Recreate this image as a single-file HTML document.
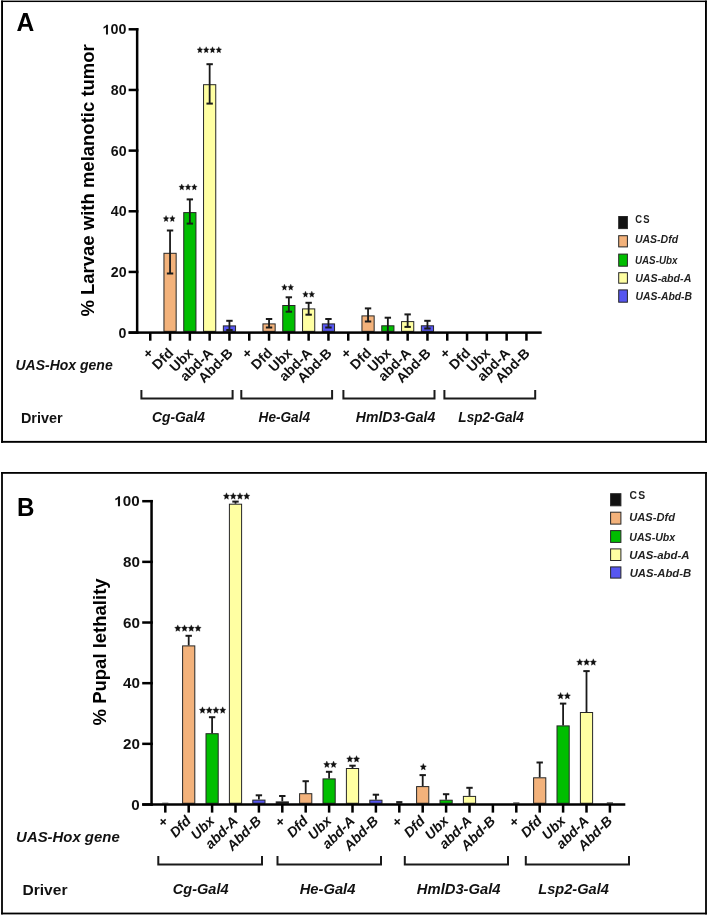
<!DOCTYPE html><html><head><meta charset="utf-8"><title>Figure</title><style>html,body{margin:0;padding:0;background:#fff;width:708px;height:916px;overflow:hidden}svg{display:block;will-change:transform}text{font-family:"Liberation Sans",sans-serif}</style></head><body>
<svg width="708" height="916" viewBox="0 0 708 916">
<defs><path id="stA" d="M0.000 -3.300 L0.814 -1.273 L2.762 -1.020 L1.317 0.486 L1.707 2.670 L0.000 1.574 L-1.707 2.670 L-1.317 0.486 L-2.762 -1.020 L-0.814 -1.273 Z" fill="#111" stroke="#111" stroke-width="0.35" stroke-linejoin="round"/><path id="stB" d="M0.000 -3.550 L0.916 -1.370 L3.106 -1.097 L1.482 0.523 L1.920 2.872 L0.000 1.693 L-1.920 2.872 L-1.482 0.523 L-3.106 -1.097 L-0.916 -1.370 Z" fill="#111" stroke="#111" stroke-width="0.35" stroke-linejoin="round"/></defs>
<rect x="0.00" y="0.00" width="708.00" height="916.00" fill="#fff" />
<rect x="1.10" y="0.60" width="705.80" height="1.45" fill="#000" />
<rect x="1.10" y="440.90" width="705.80" height="1.90" fill="#000" />
<rect x="1.10" y="0.60" width="1.90" height="442.20" fill="#000" />
<rect x="705.00" y="0.60" width="1.90" height="442.20" fill="#000" />
<rect x="1.10" y="472.00" width="705.80" height="1.80" fill="#000" />
<rect x="1.10" y="912.60" width="705.80" height="1.80" fill="#000" />
<rect x="1.10" y="472.00" width="1.80" height="442.40" fill="#000" />
<rect x="705.10" y="472.00" width="1.80" height="442.40" fill="#000" />
<rect x="163.95" y="253.30" width="12.20" height="78.05" fill="#F3B27B" stroke="#262626" stroke-width="1"/>
<line x1="170.05" y1="230.50" x2="170.05" y2="273.50" stroke="#1a1a1a" stroke-width="1.8"/>
<line x1="166.85" y1="230.50" x2="173.25" y2="230.50" stroke="#1a1a1a" stroke-width="2"/>
<line x1="166.85" y1="273.50" x2="173.25" y2="273.50" stroke="#1a1a1a" stroke-width="2"/>
<rect x="183.75" y="212.60" width="12.20" height="118.75" fill="#00BE00" stroke="#262626" stroke-width="1"/>
<line x1="189.85" y1="199.40" x2="189.85" y2="223.60" stroke="#1a1a1a" stroke-width="1.8"/>
<line x1="186.65" y1="199.40" x2="193.05" y2="199.40" stroke="#1a1a1a" stroke-width="2"/>
<line x1="186.65" y1="223.60" x2="193.05" y2="223.60" stroke="#1a1a1a" stroke-width="2"/>
<rect x="203.55" y="84.70" width="12.20" height="246.65" fill="#FFFFA2" stroke="#262626" stroke-width="1"/>
<line x1="209.65" y1="64.20" x2="209.65" y2="103.60" stroke="#1a1a1a" stroke-width="1.8"/>
<line x1="206.45" y1="64.20" x2="212.85" y2="64.20" stroke="#1a1a1a" stroke-width="2"/>
<line x1="206.45" y1="103.60" x2="212.85" y2="103.60" stroke="#1a1a1a" stroke-width="2"/>
<rect x="223.35" y="325.90" width="12.20" height="5.45" fill="#5656F0" stroke="#262626" stroke-width="1"/>
<line x1="229.45" y1="320.80" x2="229.45" y2="330.00" stroke="#1a1a1a" stroke-width="1.8"/>
<line x1="226.25" y1="320.80" x2="232.65" y2="320.80" stroke="#1a1a1a" stroke-width="2"/>
<line x1="226.25" y1="330.00" x2="232.65" y2="330.00" stroke="#1a1a1a" stroke-width="2"/>
<rect x="262.95" y="323.90" width="12.20" height="7.45" fill="#F3B27B" stroke="#262626" stroke-width="1"/>
<line x1="269.05" y1="319.00" x2="269.05" y2="327.50" stroke="#1a1a1a" stroke-width="1.8"/>
<line x1="265.85" y1="319.00" x2="272.25" y2="319.00" stroke="#1a1a1a" stroke-width="2"/>
<line x1="265.85" y1="327.50" x2="272.25" y2="327.50" stroke="#1a1a1a" stroke-width="2"/>
<rect x="282.75" y="305.50" width="12.20" height="25.85" fill="#00BE00" stroke="#262626" stroke-width="1"/>
<line x1="288.85" y1="297.30" x2="288.85" y2="311.70" stroke="#1a1a1a" stroke-width="1.8"/>
<line x1="285.65" y1="297.30" x2="292.05" y2="297.30" stroke="#1a1a1a" stroke-width="2"/>
<line x1="285.65" y1="311.70" x2="292.05" y2="311.70" stroke="#1a1a1a" stroke-width="2"/>
<rect x="302.55" y="308.90" width="12.20" height="22.45" fill="#FFFFA2" stroke="#262626" stroke-width="1"/>
<line x1="308.65" y1="302.80" x2="308.65" y2="314.70" stroke="#1a1a1a" stroke-width="1.8"/>
<line x1="305.45" y1="302.80" x2="311.85" y2="302.80" stroke="#1a1a1a" stroke-width="2"/>
<line x1="305.45" y1="314.70" x2="311.85" y2="314.70" stroke="#1a1a1a" stroke-width="2"/>
<rect x="322.35" y="323.90" width="12.20" height="7.45" fill="#5656F0" stroke="#262626" stroke-width="1"/>
<line x1="328.45" y1="319.00" x2="328.45" y2="327.50" stroke="#1a1a1a" stroke-width="1.8"/>
<line x1="325.25" y1="319.00" x2="331.65" y2="319.00" stroke="#1a1a1a" stroke-width="2"/>
<line x1="325.25" y1="327.50" x2="331.65" y2="327.50" stroke="#1a1a1a" stroke-width="2"/>
<rect x="361.95" y="315.90" width="12.20" height="15.45" fill="#F3B27B" stroke="#262626" stroke-width="1"/>
<line x1="368.05" y1="308.40" x2="368.05" y2="321.50" stroke="#1a1a1a" stroke-width="1.8"/>
<line x1="364.85" y1="308.40" x2="371.25" y2="308.40" stroke="#1a1a1a" stroke-width="2"/>
<line x1="364.85" y1="321.50" x2="371.25" y2="321.50" stroke="#1a1a1a" stroke-width="2"/>
<rect x="381.75" y="325.80" width="12.20" height="5.55" fill="#00BE00" stroke="#262626" stroke-width="1"/>
<line x1="387.85" y1="317.70" x2="387.85" y2="331.35" stroke="#1a1a1a" stroke-width="1.8"/>
<line x1="384.65" y1="317.70" x2="391.05" y2="317.70" stroke="#1a1a1a" stroke-width="2"/>
<rect x="401.55" y="321.60" width="12.20" height="9.75" fill="#FFFFA2" stroke="#262626" stroke-width="1"/>
<line x1="407.65" y1="314.40" x2="407.65" y2="326.90" stroke="#1a1a1a" stroke-width="1.8"/>
<line x1="404.45" y1="314.40" x2="410.85" y2="314.40" stroke="#1a1a1a" stroke-width="2"/>
<line x1="404.45" y1="326.90" x2="410.85" y2="326.90" stroke="#1a1a1a" stroke-width="2"/>
<rect x="421.35" y="325.80" width="12.20" height="5.55" fill="#5656F0" stroke="#262626" stroke-width="1"/>
<line x1="427.45" y1="320.80" x2="427.45" y2="328.50" stroke="#1a1a1a" stroke-width="1.8"/>
<line x1="424.25" y1="320.80" x2="430.65" y2="320.80" stroke="#1a1a1a" stroke-width="2"/>
<line x1="424.25" y1="328.50" x2="430.65" y2="328.50" stroke="#1a1a1a" stroke-width="2"/>
<rect x="135.90" y="28.05" width="2.50" height="305.80" fill="#000" />
<rect x="128.60" y="331.35" width="9.80" height="2.50" fill="#000" />
<text x="118.61" y="337.70" font-size="14.20" font-weight="bold" font-style="normal" text-anchor="start" fill="#111" >0</text>
<rect x="128.60" y="270.69" width="9.80" height="2.50" fill="#000" />
<text x="110.75" y="277.04" font-size="14.20" font-weight="bold" font-style="normal" text-anchor="start" fill="#111" >20</text>
<rect x="128.60" y="210.03" width="9.80" height="2.50" fill="#000" />
<text x="110.75" y="216.38" font-size="14.20" font-weight="bold" font-style="normal" text-anchor="start" fill="#111" >40</text>
<rect x="128.60" y="149.37" width="9.80" height="2.50" fill="#000" />
<text x="110.75" y="155.72" font-size="14.20" font-weight="bold" font-style="normal" text-anchor="start" fill="#111" >60</text>
<rect x="128.60" y="88.71" width="9.80" height="2.50" fill="#000" />
<text x="110.75" y="95.06" font-size="14.20" font-weight="bold" font-style="normal" text-anchor="start" fill="#111" >80</text>
<rect x="128.60" y="28.05" width="9.80" height="2.50" fill="#000" />
<path transform="translate(102.65 34.40) scale(0.006981 -0.006931)" d="M759 0H478V1030Q330 895 125 832V1085Q236 1122 360 1217Q484 1312 528 1409H759Z" fill="#111"/>
<text transform="translate(110.60 34.40) scale(1.0072 1)" font-size="14.20" font-weight="bold" fill="#111">00</text>
<rect x="128.60" y="331.35" width="413.10" height="2.50" fill="#000" />
<rect x="149.00" y="332.60" width="2.50" height="8.10" fill="#000" />
<rect x="168.80" y="332.60" width="2.50" height="8.10" fill="#000" />
<rect x="188.60" y="332.60" width="2.50" height="8.10" fill="#000" />
<rect x="208.40" y="332.60" width="2.50" height="8.10" fill="#000" />
<rect x="228.20" y="332.60" width="2.50" height="8.10" fill="#000" />
<rect x="248.00" y="332.60" width="2.50" height="8.10" fill="#000" />
<rect x="267.80" y="332.60" width="2.50" height="8.10" fill="#000" />
<rect x="287.60" y="332.60" width="2.50" height="8.10" fill="#000" />
<rect x="307.40" y="332.60" width="2.50" height="8.10" fill="#000" />
<rect x="327.20" y="332.60" width="2.50" height="8.10" fill="#000" />
<rect x="347.00" y="332.60" width="2.50" height="8.10" fill="#000" />
<rect x="366.80" y="332.60" width="2.50" height="8.10" fill="#000" />
<rect x="386.60" y="332.60" width="2.50" height="8.10" fill="#000" />
<rect x="406.40" y="332.60" width="2.50" height="8.10" fill="#000" />
<rect x="426.20" y="332.60" width="2.50" height="8.10" fill="#000" />
<rect x="446.00" y="332.60" width="2.50" height="8.10" fill="#000" />
<rect x="465.80" y="332.60" width="2.50" height="8.10" fill="#000" />
<rect x="485.60" y="332.60" width="2.50" height="8.10" fill="#000" />
<rect x="505.40" y="332.60" width="2.50" height="8.10" fill="#000" />
<rect x="525.20" y="332.60" width="2.50" height="8.10" fill="#000" />
<text x="144.80" y="356.70" font-size="14.00" font-weight="bold" font-style="normal" text-anchor="middle" fill="#111" transform="rotate(45 144.80 356.70)" >+</text>
<text x="174.25" y="354.00" font-size="14.00" font-weight="bold" font-style="normal" text-anchor="end" fill="#111" transform="rotate(-45 174.25 354.00)" >Dfd</text>
<text x="194.05" y="354.00" font-size="14.00" font-weight="bold" font-style="normal" text-anchor="end" fill="#111" transform="rotate(-45 194.05 354.00)" >Ubx</text>
<text x="213.85" y="354.00" font-size="14.00" font-weight="bold" font-style="normal" text-anchor="end" fill="#111" transform="rotate(-45 213.85 354.00)" >abd-A</text>
<text x="233.65" y="354.00" font-size="14.00" font-weight="bold" font-style="normal" text-anchor="end" fill="#111" transform="rotate(-45 233.65 354.00)" >Abd-B</text>
<text x="243.80" y="356.70" font-size="14.00" font-weight="bold" font-style="normal" text-anchor="middle" fill="#111" transform="rotate(45 243.80 356.70)" >+</text>
<text x="273.25" y="354.00" font-size="14.00" font-weight="bold" font-style="normal" text-anchor="end" fill="#111" transform="rotate(-45 273.25 354.00)" >Dfd</text>
<text x="293.05" y="354.00" font-size="14.00" font-weight="bold" font-style="normal" text-anchor="end" fill="#111" transform="rotate(-45 293.05 354.00)" >Ubx</text>
<text x="312.85" y="354.00" font-size="14.00" font-weight="bold" font-style="normal" text-anchor="end" fill="#111" transform="rotate(-45 312.85 354.00)" >abd-A</text>
<text x="332.65" y="354.00" font-size="14.00" font-weight="bold" font-style="normal" text-anchor="end" fill="#111" transform="rotate(-45 332.65 354.00)" >Abd-B</text>
<text x="342.80" y="356.70" font-size="14.00" font-weight="bold" font-style="normal" text-anchor="middle" fill="#111" transform="rotate(45 342.80 356.70)" >+</text>
<text x="372.25" y="354.00" font-size="14.00" font-weight="bold" font-style="normal" text-anchor="end" fill="#111" transform="rotate(-45 372.25 354.00)" >Dfd</text>
<text x="392.05" y="354.00" font-size="14.00" font-weight="bold" font-style="normal" text-anchor="end" fill="#111" transform="rotate(-45 392.05 354.00)" >Ubx</text>
<text x="411.85" y="354.00" font-size="14.00" font-weight="bold" font-style="normal" text-anchor="end" fill="#111" transform="rotate(-45 411.85 354.00)" >abd-A</text>
<text x="431.65" y="354.00" font-size="14.00" font-weight="bold" font-style="normal" text-anchor="end" fill="#111" transform="rotate(-45 431.65 354.00)" >Abd-B</text>
<text x="441.80" y="356.70" font-size="14.00" font-weight="bold" font-style="normal" text-anchor="middle" fill="#111" transform="rotate(45 441.80 356.70)" >+</text>
<text x="471.25" y="354.00" font-size="14.00" font-weight="bold" font-style="normal" text-anchor="end" fill="#111" transform="rotate(-45 471.25 354.00)" >Dfd</text>
<text x="491.05" y="354.00" font-size="14.00" font-weight="bold" font-style="normal" text-anchor="end" fill="#111" transform="rotate(-45 491.05 354.00)" >Ubx</text>
<text x="510.85" y="354.00" font-size="14.00" font-weight="bold" font-style="normal" text-anchor="end" fill="#111" transform="rotate(-45 510.85 354.00)" >abd-A</text>
<text x="530.65" y="354.00" font-size="14.00" font-weight="bold" font-style="normal" text-anchor="end" fill="#111" transform="rotate(-45 530.65 354.00)" >Abd-B</text>
<use href="#stA" x="166.05" y="218.87"/>
<use href="#stA" x="172.35" y="218.87"/>
<use href="#stA" x="181.75" y="187.27"/>
<use href="#stA" x="188.05" y="187.27"/>
<use href="#stA" x="194.35" y="187.27"/>
<use href="#stA" x="199.90" y="50.07"/>
<use href="#stA" x="206.20" y="50.07"/>
<use href="#stA" x="212.50" y="50.07"/>
<use href="#stA" x="218.80" y="50.07"/>
<use href="#stA" x="284.45" y="287.47"/>
<use href="#stA" x="290.75" y="287.47"/>
<use href="#stA" x="305.50" y="294.47"/>
<use href="#stA" x="311.80" y="294.47"/>
<path d="M141.40 390.00 V398.40 H232.60 V390.00" fill="none" stroke="#1a1a1a" stroke-width="2"/>
<path d="M241.30 390.00 V398.40 H332.10 V390.00" fill="none" stroke="#1a1a1a" stroke-width="2"/>
<path d="M343.40 390.00 V398.40 H434.50 V390.00" fill="none" stroke="#1a1a1a" stroke-width="2"/>
<path d="M444.40 390.00 V398.40 H535.20 V390.00" fill="none" stroke="#1a1a1a" stroke-width="2"/>
<text transform="translate(152.01 421.70) scale(0.9880 1)" font-size="14.00" font-weight="bold" font-style="italic" fill="#111" >Cg-Gal4</text>
<text transform="translate(258.57 421.70) scale(0.9733 1)" font-size="14.00" font-weight="bold" font-style="italic" fill="#111" >He-Gal4</text>
<text x="355.87" y="421.70" font-size="14.00" font-weight="bold" font-style="italic" text-anchor="start" fill="#111" >HmlD3-Gal4</text>
<text transform="translate(458.37 421.70) scale(0.9688 1)" font-size="14.00" font-weight="bold" font-style="italic" fill="#111" >Lsp2-Gal4</text>
<text x="15.48" y="369.85" font-size="14.00" font-weight="bold" font-style="italic" text-anchor="start" fill="#111" >UAS-Hox gene</text>
<text transform="translate(20.94 422.90) scale(1.0455 1)" font-size="13.80" font-weight="bold" font-style="normal" fill="#111" >Driver</text>
<text x="94.50" y="180.40" font-size="18.50" font-weight="bold" font-style="normal" text-anchor="middle" fill="#000" transform="rotate(-90 94.50 180.40)" >% Larvae with melanotic tumor</text>
<text transform="translate(16.48 31.30) scale(0.9391 1)" font-size="26.20" font-weight="bold" font-style="normal" fill="#000" >A</text>
<rect x="618.70" y="216.50" width="8.70" height="12.10" fill="#111111" stroke="#262626" stroke-width="1"/>
<text transform="translate(635.23 222.74) scale(0.9008 1)" font-size="10.50" font-weight="bold" font-style="normal" fill="#222" letter-spacing="1.26">CS</text>
<rect x="618.70" y="235.70" width="8.70" height="11.20" fill="#F3B27B" stroke="#262626" stroke-width="1"/>
<text x="634.91" y="243.46" font-size="10.50" font-weight="bold" font-style="italic" text-anchor="start" fill="#222" >UAS-Dfd</text>
<rect x="618.70" y="254.10" width="8.70" height="12.10" fill="#00BE00" stroke="#262626" stroke-width="1"/>
<text transform="translate(634.94 263.71) scale(0.9369 1)" font-size="10.50" font-weight="bold" font-style="italic" fill="#222" >UAS-Ubx</text>
<rect x="618.70" y="272.70" width="8.70" height="10.50" fill="#FFFFA2" stroke="#262626" stroke-width="1"/>
<text transform="translate(635.19 282.31) scale(1.0148 1)" font-size="10.50" font-weight="bold" font-style="italic" fill="#222" >UAS-abd-A</text>
<rect x="618.70" y="289.90" width="8.70" height="12.30" fill="#5656F0" stroke="#262626" stroke-width="1"/>
<text transform="translate(635.51 299.61) scale(0.9893 1)" font-size="10.50" font-weight="bold" font-style="italic" fill="#222" >UAS-Abd-B</text>
<rect x="162.20" y="802.50" width="6.2" height="1.05" fill="#888"/>
<rect x="182.60" y="645.90" width="12.20" height="157.35" fill="#F3B27B" stroke="#262626" stroke-width="1"/>
<line x1="188.70" y1="635.80" x2="188.70" y2="645.40" stroke="#1a1a1a" stroke-width="1.8"/>
<line x1="185.50" y1="635.80" x2="191.90" y2="635.80" stroke="#1a1a1a" stroke-width="2"/>
<rect x="206.00" y="733.70" width="12.20" height="69.55" fill="#00BE00" stroke="#262626" stroke-width="1"/>
<line x1="212.10" y1="717.20" x2="212.10" y2="733.20" stroke="#1a1a1a" stroke-width="1.8"/>
<line x1="208.90" y1="717.20" x2="215.30" y2="717.20" stroke="#1a1a1a" stroke-width="2"/>
<rect x="229.40" y="504.20" width="12.20" height="299.05" fill="#FFFFA2" stroke="#262626" stroke-width="1"/>
<line x1="235.50" y1="501.60" x2="235.50" y2="503.70" stroke="#1a1a1a" stroke-width="1.8"/>
<line x1="232.30" y1="501.60" x2="238.70" y2="501.60" stroke="#1a1a1a" stroke-width="2"/>
<rect x="252.80" y="800.10" width="12.20" height="3.15" fill="#5656F0" stroke="#262626" stroke-width="1"/>
<line x1="258.90" y1="795.30" x2="258.90" y2="799.60" stroke="#1a1a1a" stroke-width="1.8"/>
<line x1="255.70" y1="795.30" x2="262.10" y2="795.30" stroke="#1a1a1a" stroke-width="2"/>
<rect x="276.20" y="801.90" width="12.20" height="1.35" fill="#111111" stroke="#262626" stroke-width="1"/>
<line x1="282.30" y1="796.00" x2="282.30" y2="801.40" stroke="#1a1a1a" stroke-width="1.8"/>
<line x1="279.10" y1="796.00" x2="285.50" y2="796.00" stroke="#1a1a1a" stroke-width="2"/>
<rect x="299.60" y="793.70" width="12.20" height="9.55" fill="#F3B27B" stroke="#262626" stroke-width="1"/>
<line x1="305.70" y1="781.20" x2="305.70" y2="793.20" stroke="#1a1a1a" stroke-width="1.8"/>
<line x1="302.50" y1="781.20" x2="308.90" y2="781.20" stroke="#1a1a1a" stroke-width="2"/>
<rect x="323.00" y="778.90" width="12.20" height="24.35" fill="#00BE00" stroke="#262626" stroke-width="1"/>
<line x1="329.10" y1="771.80" x2="329.10" y2="778.40" stroke="#1a1a1a" stroke-width="1.8"/>
<line x1="325.90" y1="771.80" x2="332.30" y2="771.80" stroke="#1a1a1a" stroke-width="2"/>
<rect x="346.40" y="768.50" width="12.20" height="34.75" fill="#FFFFA2" stroke="#262626" stroke-width="1"/>
<line x1="352.50" y1="765.70" x2="352.50" y2="768.00" stroke="#1a1a1a" stroke-width="1.8"/>
<line x1="349.30" y1="765.70" x2="355.70" y2="765.70" stroke="#1a1a1a" stroke-width="2"/>
<rect x="369.80" y="800.20" width="12.20" height="3.05" fill="#5656F0" stroke="#262626" stroke-width="1"/>
<line x1="375.90" y1="794.70" x2="375.90" y2="799.70" stroke="#1a1a1a" stroke-width="1.8"/>
<line x1="372.70" y1="794.70" x2="379.10" y2="794.70" stroke="#1a1a1a" stroke-width="2"/>
<rect x="396.20" y="801.10" width="6.2" height="2.45" fill="#222"/>
<rect x="416.60" y="786.60" width="12.20" height="16.65" fill="#F3B27B" stroke="#262626" stroke-width="1"/>
<line x1="422.70" y1="775.10" x2="422.70" y2="786.10" stroke="#1a1a1a" stroke-width="1.8"/>
<line x1="419.50" y1="775.10" x2="425.90" y2="775.10" stroke="#1a1a1a" stroke-width="2"/>
<rect x="440.00" y="800.20" width="12.20" height="3.05" fill="#00BE00" stroke="#262626" stroke-width="1"/>
<line x1="446.10" y1="794.20" x2="446.10" y2="799.70" stroke="#1a1a1a" stroke-width="1.8"/>
<line x1="442.90" y1="794.20" x2="449.30" y2="794.20" stroke="#1a1a1a" stroke-width="2"/>
<rect x="463.40" y="796.40" width="12.20" height="6.85" fill="#FFFFA2" stroke="#262626" stroke-width="1"/>
<line x1="469.50" y1="787.80" x2="469.50" y2="795.90" stroke="#1a1a1a" stroke-width="1.8"/>
<line x1="466.30" y1="787.80" x2="472.70" y2="787.80" stroke="#1a1a1a" stroke-width="2"/>
<rect x="513.20" y="802.30" width="6.2" height="1.25" fill="#555"/>
<rect x="533.60" y="777.80" width="12.20" height="25.45" fill="#F3B27B" stroke="#262626" stroke-width="1"/>
<line x1="539.70" y1="762.50" x2="539.70" y2="777.30" stroke="#1a1a1a" stroke-width="1.8"/>
<line x1="536.50" y1="762.50" x2="542.90" y2="762.50" stroke="#1a1a1a" stroke-width="2"/>
<rect x="557.00" y="725.90" width="12.20" height="77.35" fill="#00BE00" stroke="#262626" stroke-width="1"/>
<line x1="563.10" y1="703.60" x2="563.10" y2="725.40" stroke="#1a1a1a" stroke-width="1.8"/>
<line x1="559.90" y1="703.60" x2="566.30" y2="703.60" stroke="#1a1a1a" stroke-width="2"/>
<rect x="580.40" y="712.50" width="12.20" height="90.75" fill="#FFFFA2" stroke="#262626" stroke-width="1"/>
<line x1="586.50" y1="671.10" x2="586.50" y2="712.00" stroke="#1a1a1a" stroke-width="1.8"/>
<line x1="583.30" y1="671.10" x2="589.70" y2="671.10" stroke="#1a1a1a" stroke-width="2"/>
<rect x="606.80" y="802.30" width="6.2" height="1.25" fill="#444"/>
<rect x="150.30" y="499.95" width="2.50" height="305.80" fill="#000" />
<rect x="142.20" y="803.25" width="10.60" height="2.50" fill="#000" />
<text transform="translate(131.35 809.50) scale(1.0593 1)" font-size="14.34" font-weight="bold" fill="#111">0</text>
<rect x="142.20" y="742.59" width="10.60" height="2.50" fill="#000" />
<text transform="translate(123.00 748.84) scale(1.0593 1)" font-size="14.34" font-weight="bold" fill="#111">20</text>
<rect x="142.20" y="681.93" width="10.60" height="2.50" fill="#000" />
<text transform="translate(123.00 688.18) scale(1.0593 1)" font-size="14.34" font-weight="bold" fill="#111">40</text>
<rect x="142.20" y="621.27" width="10.60" height="2.50" fill="#000" />
<text transform="translate(123.00 627.52) scale(1.0593 1)" font-size="14.34" font-weight="bold" fill="#111">60</text>
<rect x="142.20" y="560.61" width="10.60" height="2.50" fill="#000" />
<text transform="translate(123.00 566.86) scale(1.0593 1)" font-size="14.34" font-weight="bold" fill="#111">80</text>
<rect x="142.20" y="499.95" width="10.60" height="2.50" fill="#000" />
<path transform="translate(114.39 506.20) scale(0.007418 -0.007003)" d="M759 0H478V1030Q330 895 125 832V1085Q236 1122 360 1217Q484 1312 528 1409H759Z" fill="#111"/>
<text transform="translate(122.84 506.20) scale(1.0593 1)" font-size="14.34" font-weight="bold" fill="#111">00</text>
<rect x="142.20" y="803.25" width="483.10" height="2.50" fill="#000" />
<rect x="164.05" y="804.50" width="2.50" height="8.10" fill="#000" />
<rect x="187.45" y="804.50" width="2.50" height="8.10" fill="#000" />
<rect x="210.85" y="804.50" width="2.50" height="8.10" fill="#000" />
<rect x="234.25" y="804.50" width="2.50" height="8.10" fill="#000" />
<rect x="257.65" y="804.50" width="2.50" height="8.10" fill="#000" />
<rect x="281.05" y="804.50" width="2.50" height="8.10" fill="#000" />
<rect x="304.45" y="804.50" width="2.50" height="8.10" fill="#000" />
<rect x="327.85" y="804.50" width="2.50" height="8.10" fill="#000" />
<rect x="351.25" y="804.50" width="2.50" height="8.10" fill="#000" />
<rect x="374.65" y="804.50" width="2.50" height="8.10" fill="#000" />
<rect x="398.05" y="804.50" width="2.50" height="8.10" fill="#000" />
<rect x="421.45" y="804.50" width="2.50" height="8.10" fill="#000" />
<rect x="444.85" y="804.50" width="2.50" height="8.10" fill="#000" />
<rect x="468.25" y="804.50" width="2.50" height="8.10" fill="#000" />
<rect x="491.65" y="804.50" width="2.50" height="8.10" fill="#000" />
<rect x="515.05" y="804.50" width="2.50" height="8.10" fill="#000" />
<rect x="538.45" y="804.50" width="2.50" height="8.10" fill="#000" />
<rect x="561.85" y="804.50" width="2.50" height="8.10" fill="#000" />
<rect x="585.25" y="804.50" width="2.50" height="8.10" fill="#000" />
<rect x="608.65" y="804.50" width="2.50" height="8.10" fill="#000" />
<text x="159.90" y="825.15" font-size="14.00" font-weight="bold" font-style="normal" text-anchor="middle" fill="#111" transform="rotate(45 159.90 825.15)" >+</text>
<text x="191.90" y="821.80" font-size="14.00" font-weight="bold" font-style="italic" text-anchor="end" fill="#111" transform="rotate(-45 191.90 821.80)" >Dfd</text>
<text x="215.30" y="821.80" font-size="14.00" font-weight="bold" font-style="italic" text-anchor="end" fill="#111" transform="rotate(-45 215.30 821.80)" >Ubx</text>
<text x="238.70" y="821.80" font-size="14.00" font-weight="bold" font-style="italic" text-anchor="end" fill="#111" transform="rotate(-45 238.70 821.80)" >abd-A</text>
<text x="262.10" y="821.80" font-size="14.00" font-weight="bold" font-style="italic" text-anchor="end" fill="#111" transform="rotate(-45 262.10 821.80)" >Abd-B</text>
<text x="276.90" y="825.15" font-size="14.00" font-weight="bold" font-style="normal" text-anchor="middle" fill="#111" transform="rotate(45 276.90 825.15)" >+</text>
<text x="308.90" y="821.80" font-size="14.00" font-weight="bold" font-style="italic" text-anchor="end" fill="#111" transform="rotate(-45 308.90 821.80)" >Dfd</text>
<text x="332.30" y="821.80" font-size="14.00" font-weight="bold" font-style="italic" text-anchor="end" fill="#111" transform="rotate(-45 332.30 821.80)" >Ubx</text>
<text x="355.70" y="821.80" font-size="14.00" font-weight="bold" font-style="italic" text-anchor="end" fill="#111" transform="rotate(-45 355.70 821.80)" >abd-A</text>
<text x="379.10" y="821.80" font-size="14.00" font-weight="bold" font-style="italic" text-anchor="end" fill="#111" transform="rotate(-45 379.10 821.80)" >Abd-B</text>
<text x="393.90" y="825.15" font-size="14.00" font-weight="bold" font-style="normal" text-anchor="middle" fill="#111" transform="rotate(45 393.90 825.15)" >+</text>
<text x="425.90" y="821.80" font-size="14.00" font-weight="bold" font-style="italic" text-anchor="end" fill="#111" transform="rotate(-45 425.90 821.80)" >Dfd</text>
<text x="449.30" y="821.80" font-size="14.00" font-weight="bold" font-style="italic" text-anchor="end" fill="#111" transform="rotate(-45 449.30 821.80)" >Ubx</text>
<text x="472.70" y="821.80" font-size="14.00" font-weight="bold" font-style="italic" text-anchor="end" fill="#111" transform="rotate(-45 472.70 821.80)" >abd-A</text>
<text x="496.10" y="821.80" font-size="14.00" font-weight="bold" font-style="italic" text-anchor="end" fill="#111" transform="rotate(-45 496.10 821.80)" >Abd-B</text>
<text x="510.90" y="825.15" font-size="14.00" font-weight="bold" font-style="normal" text-anchor="middle" fill="#111" transform="rotate(45 510.90 825.15)" >+</text>
<text x="542.90" y="821.80" font-size="14.00" font-weight="bold" font-style="italic" text-anchor="end" fill="#111" transform="rotate(-45 542.90 821.80)" >Dfd</text>
<text x="566.30" y="821.80" font-size="14.00" font-weight="bold" font-style="italic" text-anchor="end" fill="#111" transform="rotate(-45 566.30 821.80)" >Ubx</text>
<text x="589.70" y="821.80" font-size="14.00" font-weight="bold" font-style="italic" text-anchor="end" fill="#111" transform="rotate(-45 589.70 821.80)" >abd-A</text>
<text x="613.10" y="821.80" font-size="14.00" font-weight="bold" font-style="italic" text-anchor="end" fill="#111" transform="rotate(-45 613.10 821.80)" >Abd-B</text>
<use href="#stB" x="177.78" y="628.44"/>
<use href="#stB" x="184.53" y="628.44"/>
<use href="#stB" x="191.28" y="628.44"/>
<use href="#stB" x="198.03" y="628.44"/>
<use href="#stB" x="202.47" y="710.39"/>
<use href="#stB" x="209.22" y="710.39"/>
<use href="#stB" x="215.97" y="710.39"/>
<use href="#stB" x="222.72" y="710.39"/>
<use href="#stB" x="226.48" y="496.34"/>
<use href="#stB" x="233.23" y="496.34"/>
<use href="#stB" x="239.98" y="496.34"/>
<use href="#stB" x="246.73" y="496.34"/>
<use href="#stB" x="326.82" y="764.64"/>
<use href="#stB" x="333.57" y="764.64"/>
<use href="#stB" x="349.77" y="759.19"/>
<use href="#stB" x="356.52" y="759.19"/>
<use href="#stB" x="423.30" y="767.04"/>
<use href="#stB" x="560.62" y="696.04"/>
<use href="#stB" x="567.38" y="696.04"/>
<use href="#stB" x="579.80" y="662.34"/>
<use href="#stB" x="586.55" y="662.34"/>
<use href="#stB" x="593.30" y="662.34"/>
<path d="M158.30 856.00 V864.60 H262.00 V856.00" fill="none" stroke="#1a1a1a" stroke-width="2"/>
<path d="M277.50 856.00 V864.60 H381.00 V856.00" fill="none" stroke="#1a1a1a" stroke-width="2"/>
<path d="M404.80 856.00 V864.60 H508.00 V856.00" fill="none" stroke="#1a1a1a" stroke-width="2"/>
<path d="M525.80 856.00 V864.60 H629.00 V856.00" fill="none" stroke="#1a1a1a" stroke-width="2"/>
<text transform="translate(172.77 894.30) scale(1.0392 1)" font-size="14.00" font-weight="bold" font-style="italic" fill="#111" >Cg-Gal4</text>
<text transform="translate(299.65 894.30) scale(1.0552 1)" font-size="14.00" font-weight="bold" font-style="italic" fill="#111" >He-Gal4</text>
<text transform="translate(416.85 894.30) scale(1.0562 1)" font-size="14.00" font-weight="bold" font-style="italic" fill="#111" >HmlD3-Gal4</text>
<text transform="translate(538.36 894.30) scale(1.0417 1)" font-size="14.00" font-weight="bold" font-style="italic" fill="#111" >Lsp2-Gal4</text>
<text transform="translate(16.11 841.50) scale(1.0289 1)" font-size="14.50" font-weight="bold" font-style="italic" fill="#111" >UAS-Hox gene</text>
<text transform="translate(22.46 894.90) scale(1.1122 1)" font-size="14.00" font-weight="bold" font-style="normal" fill="#111" >Driver</text>
<text x="106.00" y="651.90" font-size="18.50" font-weight="bold" font-style="normal" text-anchor="middle" fill="#000" transform="rotate(-90 106.00 651.90)" >% Pupal lethality</text>
<text transform="translate(16.89 515.80) scale(0.9276 1)" font-size="26.05" font-weight="bold" font-style="normal" fill="#000" >B</text>
<rect x="610.60" y="493.70" width="10.30" height="12.10" fill="#111111" stroke="#262626" stroke-width="1"/>
<text transform="translate(629.48 499.22) scale(0.9789 1)" font-size="10.60" font-weight="bold" font-style="normal" fill="#222" letter-spacing="1.27">CS</text>
<rect x="610.60" y="512.20" width="10.30" height="11.90" fill="#F3B27B" stroke="#262626" stroke-width="1"/>
<text transform="translate(629.26 520.60) scale(1.0486 1)" font-size="10.60" font-weight="bold" font-style="italic" fill="#222" >UAS-Dfd</text>
<rect x="610.60" y="530.60" width="10.30" height="11.80" fill="#00BE00" stroke="#262626" stroke-width="1"/>
<text x="629.30" y="540.85" font-size="10.60" font-weight="bold" font-style="italic" text-anchor="start" fill="#222" >UAS-Ubx</text>
<rect x="610.60" y="548.90" width="10.30" height="11.60" fill="#FFFFA2" stroke="#262626" stroke-width="1"/>
<text transform="translate(629.24 559.30) scale(1.0788 1)" font-size="10.60" font-weight="bold" font-style="italic" fill="#222" >UAS-abd-A</text>
<rect x="610.60" y="566.90" width="10.30" height="11.20" fill="#5656F0" stroke="#262626" stroke-width="1"/>
<text transform="translate(629.64 576.50) scale(1.0684 1)" font-size="10.60" font-weight="bold" font-style="italic" fill="#222" >UAS-Abd-B</text>
</svg></body></html>
